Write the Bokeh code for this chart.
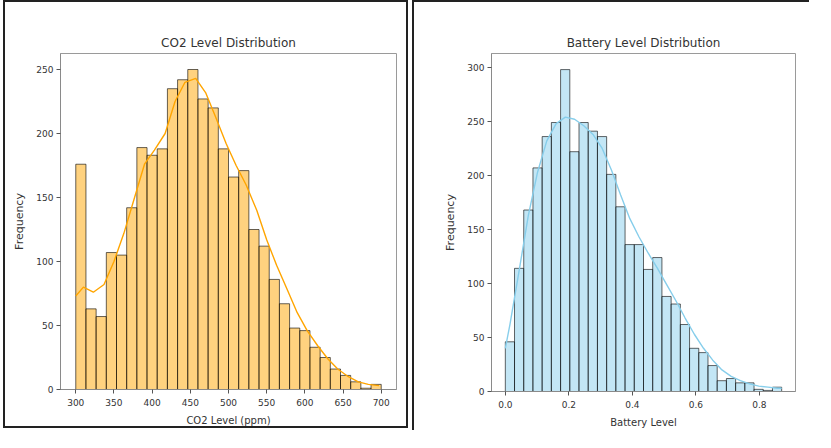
import numpy as np
from bokeh.plotting import figure
from bokeh.layouts import row
from bokeh.models import ColumnDataSource, FixedTicker, Range1d
from bokeh.embed import file_html
from bokeh.resources import INLINE

# ---------------- data ----------------
co2_min, co2_max = 300, 700
co2_counts = [176, 63, 57, 107, 105, 142, 189, 183, 188, 235, 242, 250, 227, 220, 188,
              166, 171, 125, 112, 86, 67, 48, 46, 33, 25, 16, 11, 6, 1, 4]
co2_kde_x = [300, 310, 323, 337, 350, 363, 377, 390, 403, 417, 430, 443, 457, 470, 483,
             497, 510, 523, 537, 550, 563, 577, 590, 603, 617, 630, 643, 657, 670, 683, 697]
co2_kde_y = [73, 80, 76, 82, 100, 122, 150, 176, 187, 200, 225, 240, 243, 232, 213,
             192, 175, 160, 140, 117, 97, 78, 60, 46, 34, 24, 16, 10, 6, 4, 3]
co2_xticks = [300, 350, 400, 450, 500, 550, 600, 650, 700]
co2_yticks = [0, 50, 100, 150, 200, 250]

bat_min, bat_max = 0.0, 0.87
bat_counts = [46, 114, 168, 207, 236, 249, 298, 222, 249, 241, 236, 201, 171, 136, 136,
              113, 124, 88, 81, 62, 40, 36, 24, 10, 12, 8, 8, 2, 1, 4]
bat_kde_x = [0.0, 0.0145, 0.0435, 0.0725, 0.1015, 0.1305, 0.16, 0.189, 0.218, 0.247, 0.276,
             0.305, 0.334, 0.363, 0.392, 0.421, 0.45, 0.479, 0.508, 0.537, 0.566, 0.595,
             0.624, 0.653, 0.682, 0.711, 0.74, 0.769, 0.798, 0.827, 0.856, 0.87]
bat_kde_y = [40, 62, 112, 163, 203, 232, 248, 254, 252, 246, 238, 225, 205, 182, 160, 143,
             128, 114, 99, 84, 68, 53, 40, 29, 20, 14, 10, 7, 5, 4, 3, 3]
bat_xticks = [0.0, 0.2, 0.4, 0.6, 0.8]
bat_xtick_labels = ["0.0", "0.2", "0.4", "0.6", "0.8"]
bat_yticks = [0, 50, 100, 150, 200, 250, 300]

FONT = "DejaVu Sans"


def hist_panel(title, xlabel, lo, hi, counts, kde_x, kde_y, xticks, yticks, color,
               width, height, borders, styles, xlabels=None):
    counts = np.asarray(counts, dtype=float)
    edges = np.linspace(lo, hi, len(counts) + 1)
    pad_x = 0.05 * (hi - lo)
    p = figure(width=width, height=height, title=title,
               x_range=Range1d(lo - pad_x, hi + pad_x),
               y_range=Range1d(0, counts.max() * 1.05),
               output_backend="svg", toolbar_location=None,
               min_border_left=borders[0], min_border_right=borders[1],
               min_border_top=borders[2], min_border_bottom=borders[3])
    src = ColumnDataSource(dict(left=edges[:-1], right=edges[1:],
                                top=counts, bottom=np.zeros_like(counts)))
    p.quad(left="left", right="right", top="top", bottom="bottom", source=src,
           fill_color=color, fill_alpha=0.5, line_color="black", line_alpha=0.6,
           line_width=1)
    p.line(kde_x, kde_y, line_color=color, line_width=1.4)

    p.title.text_font = FONT
    p.title.text_font_size = "12px"
    p.title.text_font_style = "normal"
    p.title.text_color = "#333333"
    p.title.align = "center"
    p.title.standoff = 8

    p.xgrid.visible = False
    p.ygrid.visible = False
    p.outline_line_color = "#9a9a9a"
    p.outline_line_width = 1
    for ax in (p.xaxis[0], p.yaxis[0]):
        ax.axis_line_color = "#8a8a8a"
        ax.major_tick_line_color = "#555555"
        ax.major_tick_out = 4
        ax.major_tick_in = 0
        ax.minor_tick_line_color = None
        ax.major_label_text_font = FONT
        ax.major_label_text_font_size = "9px"
        ax.major_label_text_color = "#333333"
        ax.axis_label_text_font = FONT
        ax.axis_label_text_font_style = "normal"
        ax.axis_label_text_color = "#333333"
    p.xaxis.ticker = FixedTicker(ticks=xticks)
    p.yaxis.ticker = FixedTicker(ticks=yticks)
    if xlabels is not None:
        p.xaxis.major_label_overrides = {t: l for t, l in zip(xticks, xlabels)}
    p.xaxis.axis_label = xlabel
    p.xaxis.axis_label_text_font_size = "10px"
    p.xaxis.major_label_standoff = 5
    p.xaxis.axis_label_standoff = 6
    p.yaxis.axis_label = "Frequency"
    p.yaxis.axis_label_text_font_size = "11px"
    p.yaxis.major_label_standoff = 3
    p.yaxis.axis_label_standoff = 7
    p.styles = styles
    return p


left = hist_panel("CO2 Level Distribution", "CO2 Level (ppm)", co2_min, co2_max,
                  co2_counts, co2_kde_x, co2_kde_y, co2_xticks, co2_yticks, "orange",
                  405, 428, (55, 14, 50, 41), {"border": "2px solid #222222"})
left.margin = (0, 0, 0, 3)

right = hist_panel("Battery Level Distribution", "Battery Level", bat_min, bat_max,
                   bat_counts, bat_kde_x, bat_kde_y, bat_xticks, bat_yticks, "skyblue",
                   397, 430, (77, 16, 51, 40),
                   {"border-left": "2px solid #222222", "border-top": "2px solid #222222"},
                   xlabels=bat_xtick_labels)

layout = row(left, right, spacing=4)

open("out.html", "w").write(file_html(layout, INLINE))
